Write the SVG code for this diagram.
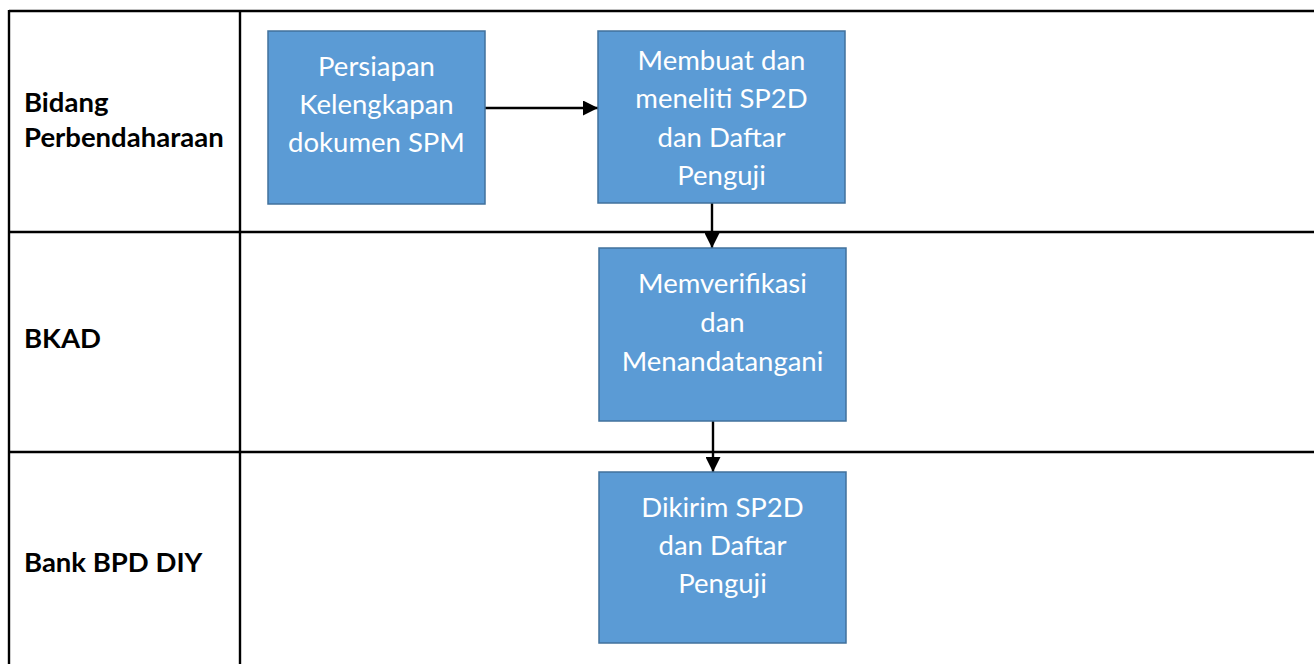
<svg xmlns="http://www.w3.org/2000/svg" width="1314" height="664" viewBox="0 0 1314 664">
  <style>
    .grid { stroke: #000; stroke-width: 2.4; fill: none; }
    .lane { font-family: Lato, "Liberation Sans", sans-serif; font-weight: bold; font-size: 27.5px; fill: #000; }
    .box { fill: #5B9BD5; stroke: #41719C; stroke-width: 1.5; }
    .txt { font-family: Lato, "Liberation Sans", sans-serif; font-size: 27.5px; fill: #fff; text-anchor: middle; }
    .conn { stroke: #000; stroke-width: 2.4; fill: none; marker-end: url(#arrow); }
  </style>
  <defs>
    <marker id="arrow" viewBox="0 0 10 10" refX="10" refY="5" markerUnits="userSpaceOnUse" markerWidth="16" markerHeight="15" orient="auto">
      <path d="M0,0 L10,5 L0,10 z" fill="#000"/>
    </marker>
  </defs>
  <rect width="1314" height="664" fill="#fff"/>

  <!-- swimlane table -->
  <g id="table">
    <line class="grid" x1="9" y1="11" x2="1314" y2="11"/>
    <line class="grid" x1="9" y1="232" x2="1314" y2="232"/>
    <line class="grid" x1="9" y1="452" x2="1314" y2="452"/>
    <line class="grid" x1="9" y1="10" x2="9" y2="664"/>
    <line class="grid" x1="240" y1="10" x2="240" y2="664"/>
  </g>

  <g id="lane-labels">
    <text class="lane" x="24" y="112">Bidang</text>
    <text class="lane" x="24" y="147">Perbendaharaan</text>
    <text class="lane" x="24" y="348">BKAD</text>
    <text class="lane" x="24" y="572">Bank BPD DIY</text>
  </g>

  <g id="connectors">
    <line class="conn" x1="485" y1="108" x2="598" y2="108"/>
    <line class="conn" x1="712" y1="203" x2="712" y2="248"/>
    <line class="conn" x1="713" y1="421" x2="713" y2="472"/>
  </g>

  <g id="persiapan">
    <rect class="box" x="268" y="31" width="217" height="173"/>
    <text class="txt" x="376.5" y="76">Persiapan</text>
    <text class="txt" x="376.5" y="114">Kelengkapan</text>
    <text class="txt" x="376.5" y="152">dokumen SPM</text>
  </g>

  <g id="membuat">
    <rect class="box" x="598" y="31" width="247" height="172"/>
    <text class="txt" x="721.5" y="70">Membuat dan</text>
    <text class="txt" x="721.5" y="108">meneliti SP2D</text>
    <text class="txt" x="721.5" y="147">dan Daftar</text>
    <text class="txt" x="721.5" y="185">Penguji</text>
  </g>

  <g id="memverifikasi">
    <rect class="box" x="599" y="248" width="247" height="173"/>
    <text class="txt" x="722.5" y="293">Memverifikasi</text>
    <text class="txt" x="722.5" y="332">dan</text>
    <text class="txt" x="722.5" y="371">Menandatangani</text>
  </g>

  <g id="dikirim">
    <rect class="box" x="599" y="472" width="247" height="171"/>
    <text class="txt" x="722.5" y="517">Dikirim SP2D</text>
    <text class="txt" x="722.5" y="555">dan Daftar</text>
    <text class="txt" x="722.5" y="593">Penguji</text>
  </g>
</svg>
